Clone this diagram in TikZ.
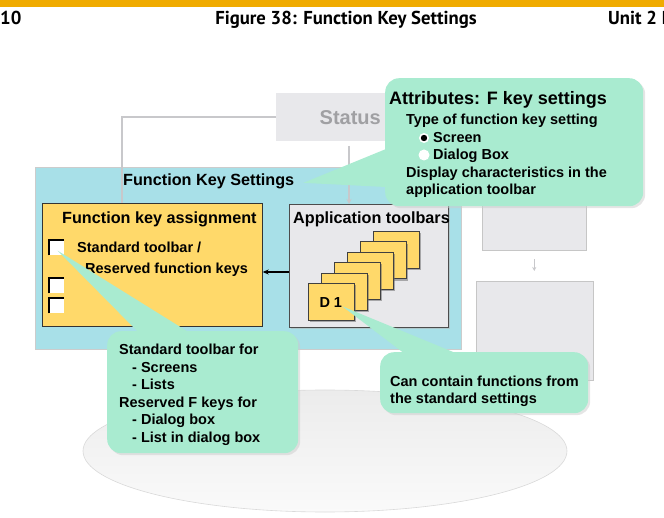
\documentclass[tikz,border=0pt]{standalone}
\usepackage{fontspec}
\setmainfont{Liberation Sans}
\newfontfamily\headfont{PT Sans}
\usetikzlibrary{shadows,calc,arrows.meta}

\definecolor{sapgold}{RGB}{240,171,0}
\definecolor{fksblue}{RGB}{168,224,232}
\definecolor{cardyellow}{RGB}{255,217,106}
\definecolor{calloutmint}{RGB}{169,235,208}
\definecolor{panelgrey}{RGB}{232,232,235}
\definecolor{linegrey}{RGB}{200,200,203}
\definecolor{statusgrey}{RGB}{160,160,163}

\begin{document}
\begin{tikzpicture}[
    x=1pt, y=-1pt,
    font=\bfseries,
    box/.style={anchor=north west, inner sep=0pt, fill=#1},
    box/.default=panelgrey,
    callout/.style={box=calloutmint, rounded corners=14pt,
        drop shadow={shadow xshift=2pt, shadow yshift=-2pt, fill=gray!40}},
    card/.style={box=cardyellow, draw=black!75, line width=0.6pt,
        minimum width=46, minimum height=37,
        drop shadow={shadow xshift=2pt, shadow yshift=-2pt, fill=black!60}},
    checkbox/.style={box=white, minimum width=15, minimum height=15},
    conn/.style={draw=linegrey, line width=1.4pt},
    headtext/.style={inner sep=0pt, font=\headfont\bfseries\fontsize{18.7}{22}\selectfont},
    boxtitle/.style={anchor=base west, inner sep=0pt, font=\bfseries\fontsize{16.2}{19}\selectfont},
    bodytext/.style={anchor=base west, inner sep=0pt, font=\bfseries\fontsize{14.5}{17.4}\selectfont}
]
    \useasboundingbox (0,0) rectangle (664,518);

    % Header
    \fill[sapgold] (0,0) rectangle (664,7.5);
    \node[headtext, anchor=base west] (pagenum) at (0,25) {10};
    \node[headtext, anchor=base] (figtitle) at (346,25) {Figure 38: Function Key Settings};
    \node[headtext, anchor=base west] (unit) at (608,25) {Unit 2 I};

    % Background floor
    \shade[top color=gray!15, bottom color=gray!4, draw=gray!30, line width=0.6pt]
        (325,451) ellipse [x radius=242, y radius=61];

    % Faded screen flow
    \node[box, minimum width=150, minimum height=48] (status) at (276,93) {};
    \node[anchor=base east, inner sep=0pt, text=statusgrey, font=\bfseries\fontsize{20}{24}\selectfont] (statustxt) at (381,125) {Status};
    \node[box, draw=gray!45, line width=0.5pt, minimum width=104, minimum height=100] (rbox1) at (482,150) {};
    \node[box, draw=gray!45, line width=0.5pt, minimum width=117, minimum height=99] (rbox2) at (476,281) {};
    \draw[conn, line width=1pt, -{Stealth[length=4pt, width=4pt]}, shorten <=9pt, shorten >=10pt]
        (rbox1.south) -- (rbox1.south |- rbox2.north);

    % Function key settings
    \node[box=fksblue, draw=gray!40, line width=0.6pt, minimum width=426, minimum height=182] (fks) at (35,167) {};
    \node[boxtitle] (fkstitle) at (123,186) {Function Key Settings};

    \node[box=cardyellow, draw=black!80, line width=0.7pt, minimum width=220, minimum height=123] (fka) at (42,203) {};
    \node[boxtitle] (fkatitle) at (62,224) {Function key assignment};
    \node[bodytext] (stdtb1) at (77,252.7) {Standard toolbar /};
    \node[bodytext] (stdtb2) at (85,273.3) {Reserved function keys};
    \foreach \y [count=\i] in {240,278,298} {
        \node[checkbox] (cb\i) at (49,\y) {};
        \draw[black, line width=1.6pt] (cb\i.south west) -- (cb\i.north west) -- (cb\i.north east);
    }

    \node[box, draw=black!70, line width=0.6pt, minimum width=159, minimum height=123,
        drop shadow={shadow xshift=1.5pt, shadow yshift=-1.5pt, fill=gray!60}] (apptb) at (289,204) {};
    \node[boxtitle] (apptitle) at (293,224) {Application toolbars};
    \foreach \i in {5,4,...,0}
        \node[card] (toolbar\i) at (308+13*\i, 283-10.4*\i) {};
    \node[bodytext] (d1txt) at (319.3,307.3) {D 1};

    \coordinate (fkatop) at (122,203);
    \coordinate (statusdrop) at (349,146);
    \draw[conn] (status.west) -| (fkatop);
    \draw[conn, -{Stealth[length=5pt, width=5pt]}] (statusdrop) -- (statusdrop |- apptb.north);
    \draw[-{Stealth[length=6pt, width=5pt]}, line width=1.1pt] (apptb.west |- 0,272) -- (fka.east |- 0,272);

    % Callout: attributes
    \node[callout, minimum width=258, minimum height=128] (attr) at (385,78) {};
    \fill[calloutmint] ($(fkstitle.east)+(9,1)$) -- (386,149) -- (386,187) -- cycle;
    \node[anchor=base west, inner sep=0pt, font=\bfseries\fontsize{18}{21}\selectfont] (attrtitle) at (389,105) {Attributes: F key settings};
    \foreach \dx/\txt [count=\i from 0] in {0/Type of function key setting, 27/Screen, 27/Dialog Box,
        0/Display characteristics in the, 0/application toolbar}
        \node[bodytext] (attr\i) at (406+\dx, 125+17.45*\i) {\txt};
    \fill[white] (424,138) circle (5);
    \fill[black] (424,138) circle (3.2);
    \fill[white] (424,155) circle (5.5);

    % Callout: standard toolbar
    \node[callout, minimum width=191, minimum height=122] (stdcall) at (107,331) {};
    \fill[calloutmint] ($(cb1.center)+(1,3)$) -- (139,333) -- (190,333) -- cycle;
    \foreach \dx/\txt [count=\i from 0] in {0/Standard toolbar for, 13/- Screens, 13/- Lists,
        0/Reserved F keys for, 13/- Dialog box, 13/- List in dialog box}
        \node[bodytext] (std\i) at (119+\dx, 355+17.45*\i) {\txt};

    % Callout: application toolbars
    \node[callout, minimum width=208, minimum height=61] (contain) at (380,352) {};
    \fill[calloutmint] ($(d1txt.east)+(0,4)$) -- (405,354) -- (458,354) -- cycle;
    \node[bodytext] (contain1) at (390,387) {Can contain functions from};
    \node[bodytext] (contain2) at (390,404) {the standard settings};

\end{tikzpicture}
\end{document}
